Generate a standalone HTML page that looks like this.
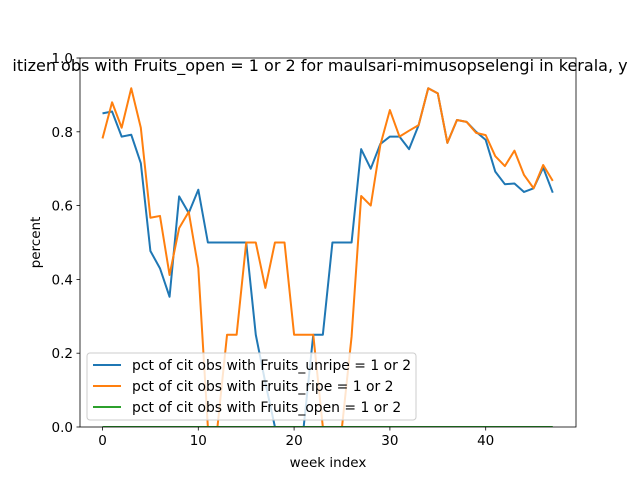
<!DOCTYPE html>
<html><head><meta charset="utf-8"><style>body{margin:0;background:#fff}svg{font-family:"DejaVu Sans","Liberation Sans",sans-serif}</style></head>
<body>
<svg id="chart" width="640" height="480" viewBox="0 0 640 480">
<rect width="640" height="480" fill="#fff"/>
<defs><clipPath id="pc"><rect x="80" y="58" width="496" height="369"/></clipPath></defs>
<g id="series" clip-path="url(#pc)"></g>
<rect x="80" y="58" width="496" height="369" fill="none" stroke="#000" stroke-width="0.8"/>
<g id="ticks"></g>
<text x="320" y="71" text-anchor="middle" font-size="16">itizen obs with Fruits_open = 1 or 2 for maulsari-mimusopselengi in kerala, y</text>
<text x="328" y="467" text-anchor="middle" font-size="13.5">week index</text>
<text transform="translate(40,242.5) rotate(-90)" text-anchor="middle" font-size="13.5">percent</text>
<g id="legend">
<rect x="87" y="353" width="329" height="67" rx="3" fill="#fff" fill-opacity="0.8" stroke="#ccc"/>
</g>
</svg>
<script>
const weeks = Array.from({length:48},(_,i)=>i);
const unripe = [0.85,0.855,0.787,0.792,0.715,0.477,0.43,0.353,0.625,0.58,0.643,0.5,0.5,0.5,0.5,0.5,0.25,0.12,0,0,0,0,0.25,0.25,0.5,0.5,0.5,0.753,0.70,0.767,0.787,0.787,0.753,0.818,0.918,0.904,0.77,0.832,0.827,0.80,0.778,0.692,0.658,0.66,0.637,0.647,0.703,0.635];
const ripe = [0.782,0.88,0.811,0.918,0.811,0.567,0.572,0.412,0.539,0.583,0.431,0,0,0.25,0.25,0.5,0.5,0.377,0.5,0.5,0.25,0.25,0.25,0,0,0,0.245,0.626,0.60,0.764,0.859,0.787,0.803,0.818,0.918,0.904,0.77,0.832,0.827,0.797,0.791,0.734,0.707,0.749,0.683,0.647,0.71,0.667];
const openv = weeks.map(()=>0);
const xTicks = [0,10,20,30,40];
const yTicks = [0.0,0.2,0.4,0.6,0.8,1.0];
const seriesNames = ["pct of cit obs with Fruits_unripe = 1 or 2","pct of cit obs with Fruits_ripe = 1 or 2","pct of cit obs with Fruits_open = 1 or 2"];
const colors = ["#1f77b4","#ff7f0e","#2ca02c"];
const NS="http://www.w3.org/2000/svg";
const xs = w => 102.5 + w*9.58;
const ys = v => 427 - v*369;
function mk(tag,attrs,parent){const e=document.createElementNS(NS,tag);for(const k in attrs)e.setAttribute(k,attrs[k]);parent.appendChild(e);return e;}
const ticks=document.getElementById('ticks');
xTicks.forEach(t=>{
  const l=mk('line',{x1:xs(t),x2:xs(t),y1:427,y2:430.5,stroke:'#000','stroke-width':0.8},ticks);
  
  
  const tx=mk('text',{x:xs(t),y:445,'text-anchor':'middle','font-size':13.5},ticks);
  tx.textContent=t;
  
  
});
yTicks.forEach(t=>{
  const l=mk('line',{x1:76.5,x2:80,y1:ys(t),y2:ys(t),stroke:'#000','stroke-width':0.8},ticks);
  
  
  const tx=mk('text',{x:73,y:ys(t)+5,'text-anchor':'end','font-size':13.5},ticks);
  tx.textContent=t.toFixed(1);
  
  
});
const sg=document.getElementById('series');
[unripe,ripe,openv].forEach((s,i)=>{
  const p=mk('polyline',{points:s.map((v,j)=>xs(weeks[j])+','+ys(v)).join(' '),fill:'none',stroke:colors[i],'stroke-width':2,'stroke-linejoin':'round'},sg);
  
  
});
const lg=document.getElementById('legend');
seriesNames.forEach((n,i)=>{
  const y=365+i*21;
  const l=mk('line',{x1:93,x2:121,y1:y,y2:y,stroke:colors[i],'stroke-width':2},lg);
  
  
  const t=mk('text',{x:132,y:y+5,'font-size':13.9},lg);
  t.textContent=n;
  
  
});
</script>
</body></html>
